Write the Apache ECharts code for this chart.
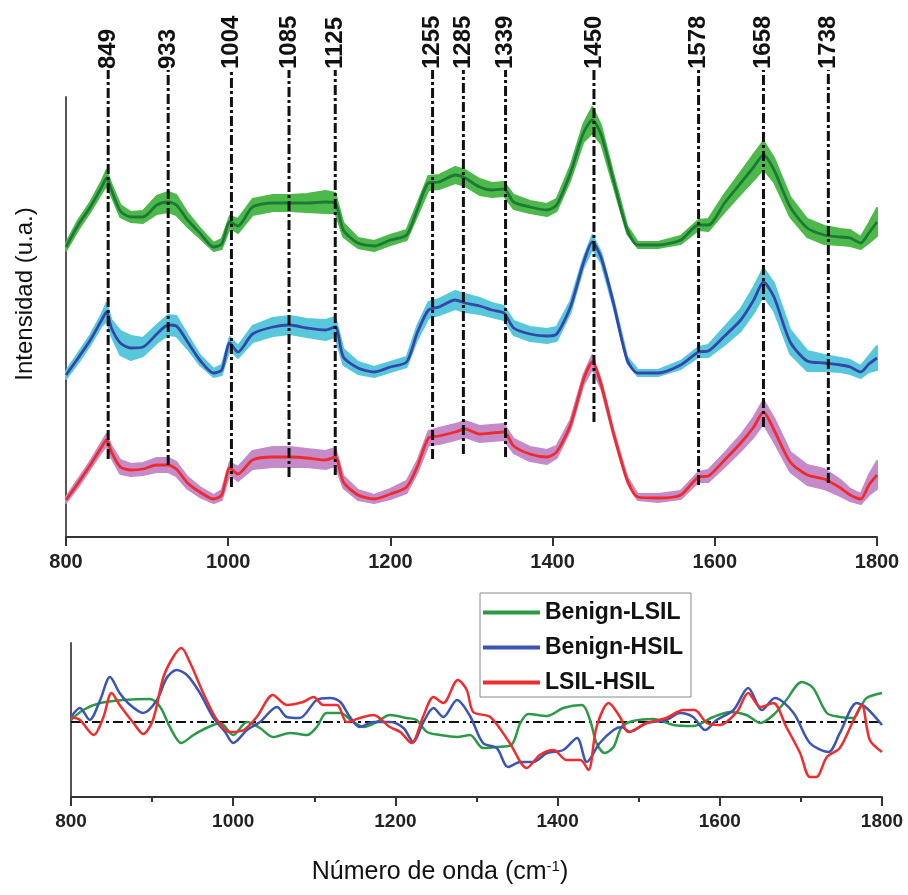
<!DOCTYPE html>
<html>
<head>
<meta charset="utf-8">
<script src="https://cdn.jsdelivr.net/npm/echarts@6/dist/echarts.min.js"></script>
<style>
html,body{margin:0;padding:0;background:#fff;}
#chart{width:908px;height:895px;}
</style>
</head>
<body>
<div id="chart"></div>
<script>
// ---------- Data ----------
// Top panel: shared wavenumber grid (cm-1)
const wn = [800,815,830,844,850,856,867,880,895,912,926,936,950,965,982,992,1002,1012,1030,1055,1076,1097,1120,1132,1142,1160,1180,1200,1220,1233,1247,1260,1280,1292,1310,1325,1340,1352,1372,1393,1405,1422,1438,1449,1460,1475,1492,1505,1530,1558,1580,1592,1612,1632,1648,1660,1673,1693,1714,1735,1755,1767,1780,1790,1800];

// Mean spectra (arbitrary units, offset for display)
const benignMean = [290,312,330,350,359,347,326,320,320,332,335,332,317,304,290,293,315,311,330,334,334,334,335,334,307,294,291,297,302,327,354,355,362,359,350,347,348,335,330,327,332,364,404,417,402,357,307,292,292,297,312,312,334,354,370,382,367,330,309,302,300,299,294,304,315];
const lsilMean   = [162,179,197,217,225,209,194,189,190,203,212,211,195,177,164,167,194,185,203,210,212,209,207,210,180,169,165,170,175,204,227,230,237,234,231,227,224,209,203,201,203,230,274,295,279,234,177,164,164,172,185,186,201,217,237,255,240,195,176,174,172,170,165,173,179];
const hsilMean   = [37,54,72,90,97,85,70,67,68,72,72,68,54,45,38,42,69,63,77,80,80,79,77,80,55,42,38,43,50,70,99,101,105,108,103,104,105,91,83,80,85,112,157,175,152,104,57,40,39,42,60,61,77,94,110,125,107,75,62,58,49,42,38,52,62];

// Standard deviation half-widths of the shaded bands
const benignSd = [4,5,5,6,8,6,6,5,6,9,10,10,7,5,4,5,6,7,8,8,8,9,11,10,7,5,5,5,5,6,7,7,8,8,8,7,7,7,6,6,6,7,9,13,9,6,4,3,3,4,5,6,9,11,13,14,12,10,9,9,8,8,6,10,14];
const lsilSd   = [4,5,5,6,9,8,12,12,9,9,10,10,7,5,4,5,6,6,8,9,9,9,10,10,8,6,5,5,5,7,8,8,9,9,8,7,7,7,7,7,7,6,5,7,5,4,3,3,3,4,5,6,9,11,13,14,14,12,10,8,7,7,6,8,12];
const hsilSd   = [3,4,4,5,6,6,7,6,6,7,7,7,6,5,4,5,6,7,9,10,10,9,9,9,6,5,4,5,6,6,7,8,8,8,8,8,8,7,7,7,6,5,5,7,4,3,3,3,4,4,5,6,7,8,10,12,12,10,10,10,8,6,5,10,14];

// Peak markers
const peakLabels = ['849','933','1004','1085','1125','1255','1285','1339','1450','1578','1658','1738'];
const peakPos    = [852,926,1004,1075,1132,1252,1290,1342,1451,1580,1660,1740];
const peakEnd    = [78,72,50,60,62,78,83,80,115,52,110,54];
const peakTop    = 467;

// Bottom panel: difference spectra
const diffBLx = [800,815,836,864,897,910,922,936,951,967,984,1000,1017,1033,1049,1070,1091,1103,1115,1132,1148,1161,1177,1193,1214,1226,1239,1255,1276,1292,1308,1325,1343,1354,1364,1387,1407,1430,1440,1448,1458,1469,1479,1493,1518,1543,1567,1592,1613,1633,1650,1666,1682,1701,1715,1732,1748,1765,1773,1781,1800];
const diffBLy = [2,12,19,22,23,15,-5,-21,-13,-6,-1,-13,0,-6,-15,-11,-13,-5,9,9,0,-5,0,7,4,2,-10,-13,-15,-13,-26,-25,-23,-1,8,6,14,17,2,-21,-31,-25,-5,1,3,-3,-4,5,10,7,-1,7,22,40,34,9,5,4,14,24,29];
const diffBHx = [800,811,823,836,848,860,873,889,906,918,930,943,959,975,990,1000,1017,1033,1054,1066,1082,1103,1119,1132,1144,1156,1173,1193,1210,1222,1234,1247,1259,1276,1292,1308,1325,1339,1354,1370,1387,1407,1424,1436,1452,1469,1479,1489,1510,1534,1551,1567,1582,1596,1617,1635,1652,1668,1691,1711,1734,1748,1769,1781,1800];
const diffBHy = [5,14,2,22,45,29,17,9,22,44,52,47,29,5,-10,-21,-8,0,15,5,4,22,24,20,5,-5,0,0,-6,-20,-1,14,5,22,6,-21,-26,-45,-40,-40,-31,-28,-16,-40,-21,-8,-5,-10,-1,2,9,5,-8,2,12,34,12,24,9,-21,-30,-11,19,14,-3];
const diffLHx = [800,811,828,840,850,860,877,889,901,914,926,936,947,963,980,996,1013,1029,1049,1066,1086,1099,1111,1128,1140,1156,1173,1193,1206,1220,1234,1247,1259,1277,1288,1296,1317,1341,1362,1378,1395,1411,1428,1438,1448,1463,1477,1487,1510,1534,1555,1569,1584,1600,1621,1635,1650,1666,1682,1699,1711,1719,1732,1748,1765,1775,1785,1800];
const diffLHy = [5,2,-13,5,29,17,-1,-12,2,45,65,74,59,29,2,-10,-8,5,27,17,20,25,17,17,0,4,7,-5,-10,-21,5,25,19,42,32,10,5,-21,-46,-33,-28,-38,-38,-48,-5,19,5,-10,-1,4,12,12,-1,-3,10,29,15,19,-5,-31,-55,-55,-35,-26,2,17,-18,-30];

const diffNames = ['Benign-LSIL','Benign-HSIL','LSIL-HSIL'];
const xTicks = {min:800, max:1800};

// ---------- Build ----------
const FONT = "'Liberation Sans', Arial, Helvetica, sans-serif";
const zip = (xs, ys) => xs.map((x, i) => [x, ys[i]]);

function bandSeries(id, mean, sd, bandColor, lineColor) {
  const lo = mean.map((m, i) => m - sd[i]);
  const hi = mean.map((m, i) => m + sd[i]);
  return [
    {type:'custom', name:id+'_band', xAxisIndex:0, yAxisIndex:0, silent:true, z:1, clip:false,
     data: wn.map((x, i) => [x, lo[i], hi[i]]),
     renderItem: function (params, api) {
       if (params.dataIndex !== 0) return null;
       const pts = [];
       for (let i = 0; i < wn.length; i++) pts.push(api.coord([wn[i], hi[i]]));
       for (let i = wn.length - 1; i >= 0; i--) pts.push(api.coord([wn[i], lo[i]]));
       return {type:'polygon', shape:{points:pts}, style:{fill:bandColor, stroke:bandColor, lineWidth:2, lineJoin:'round'}};
     },
     encode:{x:0, y:[1,2]}},
    {type:'line', name:id+'_mean', xAxisIndex:0, yAxisIndex:0, data:zip(wn, mean), symbol:'none',
     smooth:0.25, lineStyle:{color:lineColor, width:2.8}, silent:true, z:2}
  ];
}

const series = [].concat(
  bandSeries('benign', benignMean, benignSd, '#4cb94a', '#1c7a36'),
  bandSeries('lsil', lsilMean, lsilSd, '#58c7dc', '#3447a8'),
  bandSeries('hsil', hsilMean, hsilSd, '#c58ac8', '#f02a2a')
);

series.push({
  type:'custom', xAxisIndex:0, yAxisIndex:0, clip:false, silent:true, z:10,
  data: peakPos.map((p, i) => [p, peakEnd[i]]),
  renderItem: function (params, api) {
    const x = api.value(0), yEnd = api.value(1);
    const p0 = api.coord([x, yEnd]);
    const p1 = api.coord([x, peakTop]);
    return {
      type:'group',
      children:[
        {type:'line', shape:{x1:p0[0], y1:p0[1], x2:p1[0], y2:p1[1]},
         style:{stroke:'#111', lineWidth:3, lineDash:[10,3,3,3]}},
        {type:'text', x:p1[0], y:p1[1] - 1, rotation:Math.PI/2,
         style:{text:peakLabels[params.dataIndex], font:'bold 24px ' + FONT, fill:'#111',
                align:'left', verticalAlign:'middle'}}
      ]
    };
  }
});

const diffColors = ['#2a9a46', '#3a55b2', '#f02c2c'];
const diffData = [zip(diffBLx, diffBLy), zip(diffBHx, diffBHy), zip(diffLHx, diffLHy)];
diffNames.forEach((n, k) => {
  const s = {type:'line', name:n, xAxisIndex:1, yAxisIndex:1, data:diffData[k], symbol:'none',
    smooth:0.3, lineStyle:{color:diffColors[k], width:2.5}, itemStyle:{color:diffColors[k]}, silent:true, z:3};
  if (k === 0) {
    s.markLine = {silent:true, symbol:'none', label:{show:false},
      lineStyle:{color:'#111', width:2, type:[10,4,3,4]}, data:[{yAxis:0}], z:1};
  }
  series.push(s);
});

const axisLineStyle = {color:'#333', width:2};
const plain = v => String(v);
const option = {
  animation:false,
  backgroundColor:'#fff',
  grid:[
    {left:66, top:97, width:811, height:440},
    {left:71, top:643, width:811, height:154}
  ],
  xAxis:[
    {type:'value', gridIndex:0, min:xTicks.min, max:xTicks.max, interval:200,
     axisLine:{onZero:false, lineStyle:axisLineStyle},
     axisTick:{length:9, lineStyle:axisLineStyle},
     axisLabel:{fontFamily:FONT, fontSize:20, fontWeight:'bold', color:'#222', margin:15, formatter:plain},
     splitLine:{show:false}},
    {type:'value', gridIndex:1, min:xTicks.min, max:xTicks.max, interval:200,
     axisLine:{onZero:false, lineStyle:axisLineStyle},
     axisTick:{length:9, lineStyle:axisLineStyle},
     minorTick:{show:true, splitNumber:2, length:5, lineStyle:axisLineStyle},
     axisLabel:{fontFamily:FONT, fontSize:19, fontWeight:'bold', color:'#222', margin:15, formatter:plain},
     splitLine:{show:false}, minorSplitLine:{show:false}}
  ],
  yAxis:[
    {type:'value', gridIndex:0, min:0, max:440,
     axisLine:{show:true, lineStyle:{color:'#555', width:2}},
     axisTick:{show:false}, axisLabel:{show:false}, splitLine:{show:false}},
    {type:'value', gridIndex:1, min:-75, max:79,
     axisLine:{show:true, lineStyle:{color:'#555', width:2}},
     axisTick:{show:false}, axisLabel:{show:false}, splitLine:{show:false}}
  ],
  legend:{
    data:diffNames, orient:'vertical', left:480, top:593,
    padding:[8,8,3,3], itemGap:12, itemWidth:57, itemHeight:4, itemTextGap:8,
    icon:'rect', borderColor:'#888', borderWidth:1, selectedMode:false,
    textStyle:{fontFamily:FONT, fontSize:23, fontWeight:'bold', color:'#111'}
  },
  graphic:[
    {type:'text', x:25, y:294, rotation:Math.PI/2,
     style:{text:'Intensidad (u.a.)', font:'24px ' + FONT, fill:'#111', align:'center', verticalAlign:'middle'}},
    {type:'text', x:440, y:872,
     style:{text:'{a|Número de onda (cm}{s|-1}{a|)}', align:'center', verticalAlign:'middle', fill:'#111',
       rich:{a:{fontFamily:FONT, fontSize:25, fill:'#111'},
             s:{fontFamily:FONT, fontSize:15, fill:'#111', verticalAlign:'top'}}}}
  ],
  series:series
};

const chart = echarts.init(document.getElementById('chart'), null, {renderer:'canvas'});
chart.setOption(option);
</script>
</body>
</html>
